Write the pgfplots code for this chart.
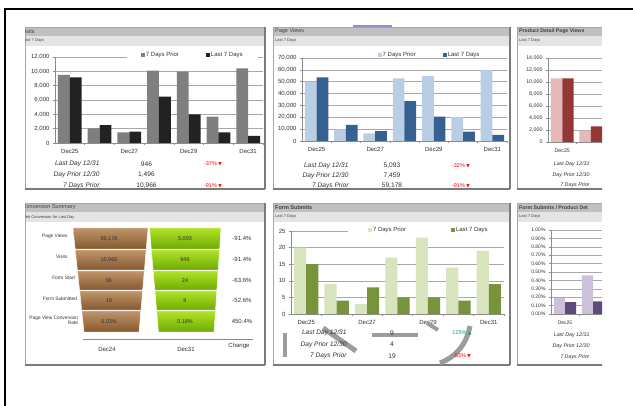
\documentclass[border=0pt]{standalone}
\usepackage{pgfplots}
\pgfplotsset{compat=1.18}
\usepackage{fontspec}
\setmainfont{Liberation Sans}
\newfontfamily\sym{DejaVu Sans}
\definecolor{ttl}{HTML}{C0C0C0}
\definecolor{sub}{HTML}{E4E4E4}
\definecolor{frm}{HTML}{A6A6A6}
\definecolor{shd}{HTML}{7A7A7A}
\definecolor{txt}{HTML}{303030}
\definecolor{ttx}{HTML}{404040}
\definecolor{grd}{HTML}{A8A8A8}
\definecolor{axl}{HTML}{8C8C8C}
\definecolor{pA}{HTML}{7F7F7F}
\definecolor{lA}{HTML}{222222}
\definecolor{pB}{HTML}{B9CDE5}
\definecolor{lB}{HTML}{376092}
\definecolor{pC}{HTML}{E6B9B8}
\definecolor{lC}{HTML}{953735}
\definecolor{pD}{HTML}{D7E4BD}
\definecolor{lD}{HTML}{77933C}
\definecolor{pE}{HTML}{CCC0DA}
\definecolor{lE}{HTML}{604A7B}
\definecolor{upg}{HTML}{00B050}
\definecolor{dnr}{HTML}{FF0000}
\definecolor{brT}{HTML}{C0956A}
\definecolor{brB}{HTML}{87582F}
\definecolor{grT}{HTML}{B2E22A}
\definecolor{grB}{HTML}{6DAC00}
\definecolor{art}{HTML}{9C9C9C}
\definecolor{pur}{HTML}{9090D0}
\newcommand{\fsz}[1]{\fontsize{#1}{#1}\selectfont}
\newcommand{\dn}{{\sym\fsz{4.5}▼}}
\newcommand{\up}{{\sym\fsz{4.5}▲}}

\pgfplotsset{
  dash/.style={
    scale only axis, anchor=south west,
    axis lines=left, axis line style={-, draw=axl, line width=0.6pt},
    ymajorgrids, major grid style={draw=grd, line width=0.45pt},
    xmin=-0.5, xmax=6.5, ymin=0,
    xtick={0,2,4,6}, xticklabels={Dec25,Dec27,Dec29,Dec31},
    minor xtick={0.5,1.5,2.5,3.5,4.5,5.5,6.5},
    tick align=outside, major tick length=2pt, minor tick length=2pt,
    major x tick style={draw=none}, minor x tick style={draw=axl, line width=0.5pt},
    ytick style={draw=axl, line width=0.5pt},
    tick label style={font=\fsz{6}, text=txt},
    xticklabel style={yshift=-1pt},
    /pgf/number format/assume math mode=true,
    /pgf/number format/1000 sep={,},
    scaled y ticks=false,
    ybar=0pt, bar width=0.4,
    legend columns=2,
    legend image code/.code={\fill[##1] (0pt,-2pt) rectangle (4pt,2pt);},
    legend style={draw=none, font=\fsz{6}, text=txt, inner ysep=1pt, nodes={inner sep=1pt}},
  },
}

\begin{document}
\begin{tikzpicture}[x=1pt,y=1pt]
\useasboundingbox (0,0) rectangle (633,406);
\fill[white] (0,0) rectangle (633,406);
\draw[black, line width=2pt] (5,-2) -- (5,396.5) -- (640,396.5);

% ---------- panel frames ----------
\foreach \l/\r/\t/\b in {25/265/379/217, 273/510/379/217, 517/602/379/217, 25/265/203/41, 273/510/203/41, 517/602/203/41}{
  \fill[white] (\l,\b) rectangle (\r,\t);
  \fill[ttl] (\l,\t-9) rectangle (\r,\t);
  \fill[sub] (\l,\t-19) rectangle (\r,\t-9);
  \draw[frm, line width=0.5pt] (\r,\b) -- (\l,\b) -- (\l,\t) -- (\r,\t);
  \draw[shd, line width=1.2pt] (\l,\b) -- (\r,\b);
}
\draw[shd, line width=1.2pt] (265,217) -- (265,379);
\draw[shd, line width=1.2pt] (510,217) -- (510,379);
\draw[shd, line width=1.2pt] (265,41) -- (265,203);
\draw[shd, line width=1.2pt] (510,41) -- (510,203);
\fill[pur] (353,379.3) rectangle (392,381.3);

% ---------- titles ----------
\begin{scope}
\clip (25,41) rectangle (602,379);
\node[anchor=west, font=\fsz{5.5}, text=ttx, inner sep=0] at (21.3,374.5) {Visits};
\node[anchor=west, font=\fsz{4}, text=ttx, inner sep=0] at (22.8,365) {Last 7 Days};
\node[anchor=west, font=\fsz{5.5}, text=ttx, inner sep=0] at (275,374.5) {Page Views};
\node[anchor=west, font=\fsz{4}, text=ttx, inner sep=0] at (275,365) {Last 7 Days};
\node[anchor=west, font=\fsz{5.2}\bfseries, text=ttx, inner sep=0] at (519,374.5) {Product Detail Page Views};
\node[anchor=west, font=\fsz{4}, text=ttx, inner sep=0] at (519,365) {Last 7 Days};
\node[anchor=west, font=\fsz{5.5}, text=ttx, inner sep=0] at (22.5,198.5) {Conversion Summary};
\node[anchor=west, font=\fsz{4}, text=ttx, inner sep=0] at (22,189) {Web Conversion for Last Day};
\node[anchor=west, font=\fsz{5.5}\bfseries, text=ttx, inner sep=0] at (275,198.5) {Form Submits};
\node[anchor=west, font=\fsz{4}, text=ttx, inner sep=0] at (275,189) {Last 7 Days};
\node[anchor=west, font=\fsz{5.2}\bfseries, text=ttx, inner sep=0] at (519,198.5) {Form Submits / Product Det};
\node[anchor=west, font=\fsz{4}, text=ttx, inner sep=0] at (519,189) {Last 7 Days};
\end{scope}

% ---------- Visits ----------
\begin{axis}[dash, at={(55pt,263pt)}, width=208pt, height=86pt, ymax=12000,
  ytick={0,2000,4000,6000,8000,10000,12000},
  legend style={fill=white, at={(0.66,1)}, anchor=center, yshift=2pt, inner xsep=14pt,
    /tikz/every even column/.append style={column sep=26pt}}]
\addplot[fill=pA, draw=none] coordinates {(0,9490)(1,2050)(2,1490)(3,10090)(4,9950)(5,3670)(6,10420)};
\addplot[fill=lA, draw=none] coordinates {(0,9170)(1,2510)(2,1580)(3,6460)(4,4000)(5,1490)(6,1000)};
\legend{7 Days Prior, Last 7 Days}
\end{axis}
\begin{scope}[font=\fsz{6.6}, text=txt]
\node[anchor=east, font=\fsz{6.6}\itshape] at (103,242) {Last Day 12/31};
\node[anchor=east, font=\fsz{6.6}\itshape] at (103,231) {Day Prior 12/30};
\node[anchor=east, font=\fsz{6.6}\itshape] at (103,220.5) {7 Days Prior};
\node at (146.5,242) {946};
\node at (146.5,231) {1,496};
\node at (146.5,220.5) {10,966};
\node[text=dnr, font=\fsz{5.5}] at (213,242) {-37\% \dn};
\node[text=dnr, font=\fsz{5.5}] at (213,220.5) {-91\% \dn};
\end{scope}

% ---------- Page Views ----------
\begin{axis}[dash, at={(302pt,265pt)}, width=205pt, height=83pt, ymax=70000,
  ytick={0,10000,20000,30000,40000,50000,60000,70000},
  legend style={fill=none, at={(0.62,1)}, anchor=center, yshift=3pt,
    /tikz/every even column/.append style={column sep=26pt}}]
\addplot[fill=pB, draw=none] coordinates {(0,50000)(1,9900)(2,6500)(3,52900)(4,54800)(5,20200)(6,59900)};
\addplot[fill=lB, draw=none] coordinates {(0,53700)(1,13500)(2,8400)(3,33700)(4,20500)(5,7800)(6,5100)};
\legend{7 Days Prior, Last 7 Days}
\end{axis}
\begin{scope}[font=\fsz{6.6}, text=txt]
\node[anchor=east, font=\fsz{6.6}\itshape] at (352,240.5) {Last Day 12/31};
\node[anchor=east, font=\fsz{6.6}\itshape] at (352,230) {Day Prior 12/30};
\node[anchor=east, font=\fsz{6.6}\itshape] at (352,220) {7 Days Prior};
\node at (392,240.5) {5,093};
\node at (392,230) {7,459};
\node at (392,220) {59,178};
\node[text=dnr, font=\fsz{5.5}] at (461,240.5) {-32\% \dn};
\node[text=dnr, font=\fsz{5.5}] at (461,220) {-91\% \dn};
\end{scope}

% ---------- Product Detail Page Views ----------
\begin{scope}
\clip (517,210) rectangle (602,379);
\begin{axis}[dash, at={(548pt,264pt)}, width=199.5pt, height=84pt, ymax=14000,
  ytick={0,2000,4000,6000,8000,10000,12000,14000},
  xtick={0}, xticklabels={Dec25}, minor xtick={0.5,1.5},
  tick label style={font=\fsz{5.3}}]
\addplot[fill=pC, draw=none] coordinates {(0,10600)(1,1900)};
\addplot[fill=lC, draw=none] coordinates {(0,10600)(1,2600)};
\end{axis}
\end{scope}
\begin{scope}[font=\fsz{5.3}\itshape, text=txt]
\node[anchor=east] at (593,242) {Last Day 12/31};
\node[anchor=east] at (593,231) {Day Prior 12/30};
\node[anchor=east] at (593,220.5) {7 Days Prior};
\end{scope}

% ---------- Conversion Summary funnel ----------
\begin{axis}[at={(25pt,41pt)}, anchor=south west, scale only axis, width=240pt, height=162pt,
  xmin=25, xmax=265, ymin=203, ymax=365, y dir=reverse, hide axis, clip=false]
\addplot[draw=white, line width=0.4pt, top color=brT, bottom color=brB] coordinates {(73,228)(148,228)(146.2,249)(75.2,249)} -- cycle;
\addplot[draw=white, line width=0.4pt, top color=brT, bottom color=brB] coordinates {(75.3,250)(146.1,250)(144.4,270)(77.4,270)} -- cycle;
\addplot[draw=white, line width=0.4pt, top color=brT, bottom color=brB] coordinates {(77.5,271)(144.3,271)(142.6,290)(79.6,290)} -- cycle;
\addplot[draw=white, line width=0.4pt, top color=brT, bottom color=brB] coordinates {(79.7,291)(142.6,291)(140.9,310)(81.7,310)} -- cycle;
\addplot[draw=white, line width=0.4pt, top color=brT, bottom color=brB] coordinates {(81.8,311)(140.8,311)(139,332)(84,332)} -- cycle;
\addplot[draw=white, line width=0.4pt, top color=grT, bottom color=grB] coordinates {(149.6,228)(221,228)(219.6,249)(151.3,249)} -- cycle;
\addplot[draw=white, line width=0.4pt, top color=grT, bottom color=grB] coordinates {(151.4,250)(219.5,250)(218.2,270)(153.1,270)} -- cycle;
\addplot[draw=white, line width=0.4pt, top color=grT, bottom color=grB] coordinates {(153.2,271)(218.1,271)(216.8,290)(154.9,290)} -- cycle;
\addplot[draw=white, line width=0.4pt, top color=grT, bottom color=grB] coordinates {(154.9,291)(216.8,291)(215.5,310)(156.6,310)} -- cycle;
\addplot[draw=white, line width=0.4pt, top color=grT, bottom color=grB] coordinates {(156.7,311)(215.4,311)(214,332)(158.5,332)} -- cycle;
\addplot[draw=axl, line width=0.6pt] coordinates {(83,339)(253,339)};
\begin{scope}[font=\fsz{4.8}, text=txt]
\node[anchor=east] at (axis cs:71,236) {Page Views};
\node[anchor=east] at (axis cs:71,257) {Visits};
\node[anchor=east] at (axis cs:78.5,278) {Form Start};
\node[anchor=east] at (axis cs:80.5,298.5) {Form Submitted};
\node[anchor=east, align=right] at (axis cs:81.5,320) {Page View Conversion\\Rate};
\end{scope}
\begin{scope}[font=\fsz{5.5}, text=txt]
\node at (axis cs:109,238.5) {59,178};
\node at (axis cs:109,259.5) {10,966};
\node at (axis cs:109,280.5) {66};
\node at (axis cs:109,300.5) {19};
\node at (axis cs:109,321.5) {0.03\%};
\node at (axis cs:185,238.5) {5,093};
\node at (axis cs:185,259.5) {946};
\node at (axis cs:185,280.5) {24};
\node at (axis cs:185,300.5) {9};
\node at (axis cs:185,321.5) {0.18\%};
\end{scope}
\begin{scope}[font=\fsz{6}, text=txt]
\node at (axis cs:242,238.5) {-91.4\%};
\node at (axis cs:242,259.5) {-91.4\%};
\node at (axis cs:242,280.5) {-63.6\%};
\node at (axis cs:242,300.5) {-52.6\%};
\node at (axis cs:242,321.5) {450.4\%};
\node at (axis cs:107,349) {Dec24};
\node at (axis cs:186,349) {Dec31};
\node at (axis cs:239,346) {Change};
\end{scope}
\end{axis}

% ---------- Form Submits ----------
\begin{axis}[dash, at={(291pt,92pt)}, width=213pt, height=83pt, ymax=25,
  ytick={0,5,10,15,20,25},
  legend style={fill=white, at={(0.645,1)}, anchor=center, yshift=1pt, inner xsep=20pt,
    /tikz/every even column/.append style={column sep=44pt}}]
\addplot[fill=pD, draw=none] coordinates {(0,20)(1,9)(2,3)(3,17)(4,23)(5,14)(6,19)};
\addplot[fill=lD, draw=none] coordinates {(0,15)(1,4)(2,8)(3,5)(4,5)(5,4)(6,9)};
\legend{7 Days Prior, Last 7 Days}
\end{axis}
% grey artefacts
\draw[art, line width=4pt] (285,73) -- (285,49);
\draw[art, line width=5pt] (323,78) -- (356,55);
\draw[art, line width=4pt] (372,71) -- (418,71);
\draw[art, line width=4pt] (427,83) -- (438,76);
\draw[art, line width=5pt] (440,43) .. controls (458,50) and (467,64) .. (470,80);
\begin{scope}[font=\fsz{6.6}, text=txt]
\node[anchor=east, font=\fsz{6.6}\itshape] at (350,73) {Last Day 12/31};
\node[anchor=east, font=\fsz{6.6}\itshape] at (350,61.5) {Day Prior 12/30};
\node[anchor=east, font=\fsz{6.6}\itshape] at (350,50) {7 Days Prior};
\node at (392,73) {9};
\node at (392,61.5) {4};
\node at (392,50) {19};
\node[text=upg, font=\fsz{5.5}] at (462,73) {125\% \up};
\node[text=dnr, font=\fsz{5.5}] at (462,50) {-53\% \dn};
\end{scope}

% ---------- Form Submits / Product Detail Page Views ----------
\begin{scope}
\clip (517,41) rectangle (602,203);
\begin{axis}[dash, at={(551pt,92pt)}, width=196pt, height=84pt, ymax=1,
  ytick={0,0.1,0.2,0.3,0.4,0.5,0.6,0.7,0.8,0.9,1},
  yticklabel={\pgfmathprintnumber[fixed,fixed zerofill,precision=2]{\tick}\%},
  xtick={0}, xticklabels={Dec25}, minor xtick={0.5,1.5},
  tick label style={font=\fsz{5}}]
\addplot[fill=pE, draw=none] coordinates {(0,0.19)(1,0.46)};
\addplot[fill=lE, draw=none] coordinates {(0,0.14)(1,0.15)};
\end{axis}
\end{scope}
\begin{scope}[font=\fsz{5.3}\itshape, text=txt]
\node[anchor=east] at (593,71) {Last Day 12/31};
\node[anchor=east] at (593,60) {Day Prior 12/30};
\node[anchor=east] at (593,49) {7 Days Prior};
\end{scope}
\end{tikzpicture}
\end{document}
